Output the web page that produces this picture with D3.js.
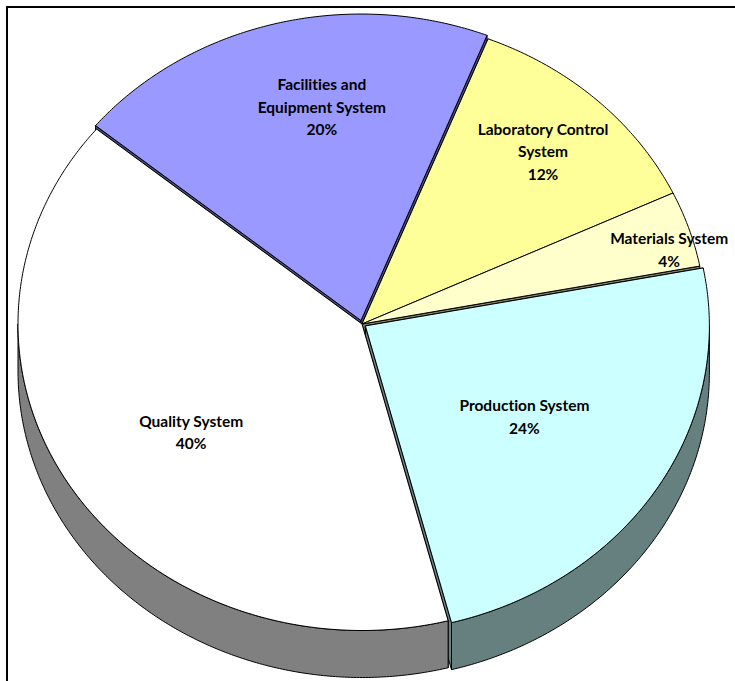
<!DOCTYPE html>
<html>
<head>
<meta charset="utf-8">
<script src="https://cdn.jsdelivr.net/npm/d3@7"></script>
<style>
  body { margin:0; background:#fff; }
  svg { display:block; }
  text { font-family: Lato, "Open Sans", sans-serif; font-weight:bold; font-size:15.5px; fill:#000; font-variant-ligatures:none; }
</style>
</head>
<body>
<div id="chart"></div>
<script>
// data
var categories = [
    ['Facilities and','Equipment System'],
    ['Laboratory Control','System'],
    ['Materials System'],
    ['Production System'],
    ['Quality System']
];
var values = [20, 12, 4, 24, 40];
var colors = ['#9999ff', '#ffff99', '#ffffcc', '#ccffff', '#ffffff'];

// layout
var W = 735, H = 681;
var cx = 362, cy = 324,
    rx = 344, tilt = 0.891,
    depth = 47;
var explode = [4, 0, 0, 4, 0];          // px pulled out along mid angle
var labelNudge = [5.2, 0, 3, 0.5, -3];  // degrees
var labelR = [0.705, 0.77, 0.925, 0.55, 0.61];
var lineH = 22.5;
var rad = Math.PI/180;

var svg = d3.select('#chart').append('svg')
    .attr('width', W)
    .attr('height', H);

// frame
svg.append('rect')
    .attr('x', 7).attr('y', 7)
    .attr('width', W + 20).attr('height', H + 20)
    .style('fill', 'none')
    .style('stroke', '#000')
    .style('stroke-width', 2);

var pie = d3.pie()
    .sort(null)
    .value(function(d){ return d; })
    .startAngle(-50.5*rad)
    .endAngle(-50.5*rad + 2*Math.PI);

var arcs = pie(values);

// ground plane -> screen
var sx = d3.scaleLinear().domain([-1, 1]).range([cx - rx, cx + rx]);
var sy = d3.scaleLinear().domain([-1, 1]).range([cy + rx*tilt, cy - rx*tilt]);

arcs.forEach(function(d, i){
    var mid = (d.startAngle + d.endAngle)/2;
    d.off = [explode[i]*Math.sin(mid), -explode[i]*Math.cos(mid)*tilt];
    d.color = colors[i];
    var c = d3.rgb(colors[i]);
    d.side = d3.rgb(c.r*0.5, c.g*0.5, c.b*0.5).toString();
});

function pt(a, r, off, dz){
    return [sx(r*Math.sin(a)) + off[0], sy(r*Math.cos(a)) + off[1] + dz];
}

function rim(a0, a1, off, dz){
    var n = Math.max(2, Math.ceil(Math.abs(a1 - a0)/(0.5*rad)));
    var pts = [];
    for (var s = 0; s <= n; s++){
        pts.push(pt(a0 + (a1 - a0)*s/n, 1, off, dz));
    }
    return pts;
}

var line = d3.line();
var gRadial = svg.append('g'),
    gOuter = svg.append('g'),
    gTop = svg.append('g'),
    gText = svg.append('g');

function face(g, pts, fill){
    g.append('path')
        .attr('d', line(pts) + 'Z')
        .style('fill', fill)
        .style('stroke', '#000')
        .style('stroke-width', 1)
        .style('stroke-linejoin', 'round');
}

arcs.forEach(function(d){
    // radial side walls
    [d.startAngle, d.endAngle].forEach(function(a){
        var c0 = pt(0, 0, d.off, 0), e0 = pt(a, 1, d.off, 0);
        face(gRadial, [c0, e0, [e0[0], e0[1] + depth], [c0[0], c0[1] + depth]], d.side);
    });

    // outer wall, front half only
    [-2*Math.PI, 0, 2*Math.PI].forEach(function(shift){
        var lo = Math.max(d.startAngle, Math.PI/2 + shift),
            hi = Math.min(d.endAngle, 3*Math.PI/2 + shift);
        if (hi <= lo) { return; }
        var top = rim(lo, hi, d.off, 0),
            bot = rim(hi, lo, d.off, depth);
        face(gOuter, top.concat(bot), d.side);
    });

    // top face
    face(gTop, [pt(0, 0, d.off, 0)].concat(rim(d.startAngle, d.endAngle, d.off, 0)), d.color);
});

// labels
arcs.forEach(function(d, i){
    var mid = (d.startAngle + d.endAngle)/2 + labelNudge[i]*rad;
    var p = pt(mid, labelR[i], d.off, 0);
    var lines = categories[i].concat([d.data + '%']);
    var y0 = p[1] - (lines.length - 1)*lineH/2;
    lines.forEach(function(t, j){
        gText.append('text')
            .attr('x', p[0])
            .attr('y', y0 + j*lineH)
            .attr('dy', '0.35em')
            .attr('text-anchor', 'middle')
            .text(t);
    });
});
</script>
</body>
</html>
